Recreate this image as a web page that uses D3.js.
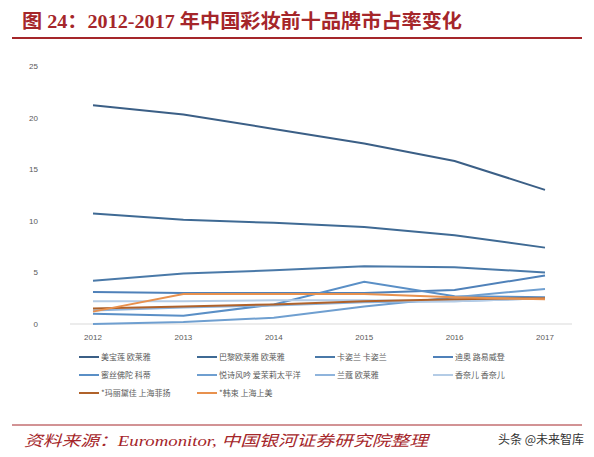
<!DOCTYPE html><html><head><meta charset="utf-8"><script src="https://cdn.jsdelivr.net/npm/d3@7"></script>
<style>body{margin:0;background:#fff}svg{display:block}</style></head><body><svg id="c" width="594" height="457"></svg>
<script>
const years=[2012,2013,2014,2015,2016,2017];
const yTicks=[0,5,10,15,20,25];
const names=["美宝莲 欧莱雅","巴黎欧莱雅 欧莱雅","卡姿兰 卡姿兰","迪奥 路易威登","蜜丝佛陀 科蒂","悦诗风吟 爱茉莉太平洋","兰蔻 欧莱雅","香奈儿 香奈儿","*玛丽黛佳 上海菲扬","*韩束 上海上美"];
const colors=["#3b5f86","#3f6a94","#4a79a8","#4f81b9","#5a8fc6","#6f9fd0","#8fb4dc","#b4cce6","#b0622a","#e8914e"];
const v0=[21.2,20.3,18.9,17.5,15.8,13.0];
const v1=[10.7,10.1,9.8,9.4,8.6,7.4];
const v2=[4.2,4.9,5.2,5.6,5.5,5.0];
const v3=[3.1,3.0,3.0,3.0,3.3,4.7];
const v4=[1.0,0.8,1.9,4.1,2.7,2.6];
const v5=[0.0,0.2,0.6,1.7,2.6,3.4];
const v6=[1.3,1.6,1.8,2.1,2.2,2.5];
const v7=[2.2,2.2,2.3,2.3,2.2,2.5];
const v8=[1.5,1.7,1.9,2.2,2.4,2.5];
const v9=[1.2,2.9,2.9,2.9,2.6,2.4];
const series=[v0,v1,v2,v3,v4,v5,v6,v7,v8,v9];
const svg=d3.select("#c");
svg.append("text").attr("x",22).attr("y",28).attr("font-family","Liberation Serif, Noto Sans CJK SC").attr("font-weight","bold").attr("font-size",19).attr("fill","#a5262a").attr("textLength",440).attr("lengthAdjust","spacingAndGlyphs").text("图 24：2012-2017 年中国彩妆前十品牌市占率变化");
svg.append("line").attr("x1",12).attr("x2",582).attr("y1",38).attr("y2",38).attr("stroke","#a5262a").attr("stroke-width",2);
const x=d3.scalePoint().domain(years).range([93,545]);
const y=d3.scaleLinear().domain([0,25]).range([324,66]);
svg.append("line").attr("x1",70).attr("x2",572).attr("y1",324).attr("y2",324).attr("stroke","#d9d9d9");
yTicks.forEach(t=>svg.append("text").attr("x",38).attr("y",y(t)+3).attr("text-anchor","end").attr("font-family","Liberation Sans").attr("font-size",8).attr("fill","#595959").text(t));
years.forEach(t=>svg.append("text").attr("x",x(t)).attr("y",340).attr("text-anchor","middle").attr("font-family","Liberation Sans").attr("font-size",8).attr("fill","#595959").text(t));
const line=d3.line().x((d,i)=>x(years[i])).y(d=>y(d));
series.forEach((s,i)=>svg.append("path").attr("d",line(s)).attr("fill","none").attr("stroke",colors[i]).attr("stroke-width",2));
const lx=[79,197,315,433];
names.forEach((n,i)=>{const cx=lx[i%4],cy=357+Math.floor(i/4)*18;
svg.append("line").attr("x1",cx).attr("x2",cx+20).attr("y1",cy).attr("y2",cy).attr("stroke",colors[i]).attr("stroke-width",2);
svg.append("text").attr("x",cx+22).attr("y",cy+3).attr("font-family","Noto Sans CJK SC").attr("font-size",8).attr("fill","#595959").text(n);});
svg.append("line").attr("x1",12).attr("x2",582).attr("y1",425).attr("y2",425).attr("stroke","#a5262a").attr("stroke-width",1);
svg.append("text").attr("x",24).attr("y",446).attr("font-family","Liberation Serif, Noto Sans CJK SC").attr("font-style","italic").attr("font-size",15).attr("fill","#a5262a").attr("textLength",404).attr("lengthAdjust","spacingAndGlyphs").text("资料来源：Euromonitor, 中国银河证券研究院整理");
svg.append("text").attr("x",498).attr("y",444).attr("font-family","Noto Sans CJK SC").attr("font-size",12).attr("fill","#333").text("头条 @未来智库");
</script></body></html>
